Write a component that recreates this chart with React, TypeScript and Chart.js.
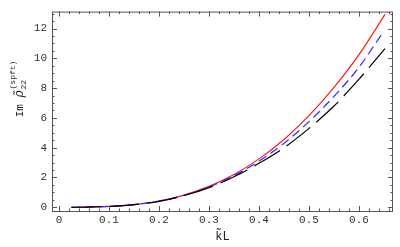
import React, { useEffect, useRef } from "react";
import { Chart, registerables } from "chart.js";

Chart.register(...registerables);

const kL = [0.025, 0.05, 0.1, 0.15, 0.2, 0.25, 0.3, 0.35, 0.4, 0.45, 0.5, 0.55, 0.6];
const redVals = [0.0, 0.01, 0.06, 0.18, 0.42, 0.82, 1.4, 2.2, 3.25, 4.55, 6.15, 8.05, 10.25];
const redEnd = { x: 0.652, y: 12.95 };
const blueVals = [0.0, 0.01, 0.06, 0.18, 0.41, 0.8, 1.36, 2.12, 3.1, 4.3, 5.75, 7.45, 9.4];
const blueEnd = { x: 0.645, y: 11.6 };
const blackVals = [0.0, 0.01, 0.06, 0.18, 0.4, 0.78, 1.32, 2.05, 2.95, 4.0, 5.3, 6.8, 8.6];
const blackEnd = { x: 0.652, y: 10.65 };

const xTicks = [0, 0.1, 0.2, 0.3, 0.4, 0.5, 0.6];
const yTicks = [0, 2, 4, 6, 8, 10, 12];

const MONO = "'Liberation Mono', 'DejaVu Sans Mono', monospace";

function pts(vals: number[], end: { x: number; y: number }) {
  const p = kL.map((x, i) => ({ x, y: vals[i] }));
  p.push(end);
  return p;
}

const framePlugin = {
  id: "frame",
  afterDraw(chart: any) {
    const { ctx, chartArea: a, scales } = chart;
    const xs = scales.x;
    const ys = scales.y;
    ctx.save();
    ctx.strokeStyle = "#555";
    ctx.lineWidth = 1;
    ctx.strokeRect(a.left + 0.5, a.top + 0.5, a.right - a.left - 1, a.bottom - a.top);
    ctx.beginPath();
    for (let i = 0; i <= 33; i++) {
      const v = i * 0.02;
      const px = Math.round(xs.getPixelForValue(v)) + 0.5;
      if (px < a.left || px > a.right) continue;
      const major = i % 5 === 0;
      const len = major ? 5 : 2.5;
      ctx.moveTo(px, a.bottom);
      ctx.lineTo(px, a.bottom - len);
      ctx.moveTo(px, a.top);
      ctx.lineTo(px, a.top + len);
    }
    for (let i = 0; i <= 26; i++) {
      const v = i * 0.5;
      const py = Math.round(ys.getPixelForValue(v)) + 0.5;
      if (py < a.top || py > a.bottom) continue;
      const major = i % 4 === 0;
      const len = major ? 5 : 2.5;
      ctx.moveTo(a.left, py);
      ctx.lineTo(a.left + len, py);
      ctx.moveTo(a.right, py);
      ctx.lineTo(a.right - len, py);
    }
    ctx.stroke();

    // x title
    ctx.fillStyle = "#222";
    ctx.textBaseline = "alphabetic";
    ctx.textAlign = "center";
    ctx.font = `12px ${MONO}`;
    ctx.fillText("k\u0303L", (a.left + a.right) / 2, 240);

    // y title
    ctx.translate(23, 89);
    ctx.rotate(-Math.PI / 2);
    ctx.textAlign = "left";
    const main = "Im ";
    ctx.font = `11px ${MONO}`;
    const wMain = ctx.measureText(main).width;
    ctx.font = `italic 12px 'DejaVu Serif', serif`;
    const rho = "\u03C1\u0303";
    const wRho = ctx.measureText("\u03C1").width;
    ctx.font = `8px ${MONO}`;
    const wSup = ctx.measureText("(spft)").width;
    const total = wMain + wRho + 1 + wSup;
    let x0 = -total / 2;
    ctx.font = `11px ${MONO}`;
    ctx.fillText(main, x0, 0);
    x0 += wMain;
    ctx.font = `italic 12px 'DejaVu Serif', serif`;
    ctx.fillText(rho, x0, 0);
    x0 += wRho + 1;
    ctx.font = `8px ${MONO}`;
    ctx.fillText("22", x0, 3);
    ctx.fillText("(spft)", x0, -8);
    ctx.restore();
  },
};

export default function App() {
  const ref = useRef<HTMLCanvasElement>(null);
  useEffect(() => {
    if (!ref.current) return;
    const chart = new Chart(ref.current, {
      type: "line",
      data: {
        datasets: [
          {
            data: pts(blackVals, blackEnd),
            borderColor: "#000",
            borderWidth: 1.2,
            borderDash: [30, 8],
            pointRadius: 0,
            cubicInterpolationMode: "monotone",
          },
          {
            data: pts(blueVals, blueEnd),
            borderColor: "#2a2aff",
            borderWidth: 1.2,
            borderDash: [9, 5],
            pointRadius: 0,
            cubicInterpolationMode: "monotone",
          },
          {
            data: pts(redVals, redEnd),
            borderColor: "#ff1a1a",
            borderWidth: 1.2,
            pointRadius: 0,
            cubicInterpolationMode: "monotone",
          },
        ],
      },
      options: {
        animation: false,
        responsive: false,
        events: [],
        layout: { padding: { top: 1, right: 7, left: 0, bottom: 0 } },
        plugins: { legend: { display: false }, tooltip: { enabled: false } },
        scales: {
          x: {
            type: "linear",
            min: -0.014,
            max: 0.668,
            grid: { display: false, drawTicks: false },
            border: { display: false },
            afterBuildTicks: (s: any) => {
              s.ticks = xTicks.map((v) => ({ value: v }));
            },
            afterFit: (s: any) => {
              s.height = 36;
            },
            ticks: {
              autoSkip: false,
              maxRotation: 0,
              padding: 2,
              color: "#333",
              font: { family: MONO, size: 11 },
              callback: (v: any) => (v === 0 ? "0" : Number(v).toFixed(1)),
            },
          },
          y: {
            type: "linear",
            min: -0.25,
            max: 13.14,
            grid: { display: false, drawTicks: false },
            border: { display: false },
            afterBuildTicks: (s: any) => {
              s.ticks = yTicks.map((v) => ({ value: v }));
            },
            afterFit: (s: any) => {
              s.width = 52;
            },
            ticks: {
              autoSkip: false,
              padding: 5,
              color: "#333",
              font: { family: MONO, size: 11 },
              callback: (v: any) => String(v),
            },
          },
        },
      },
      plugins: [framePlugin],
    });
    return () => chart.destroy();
  }, []);
  return (
    <div style={{ position: "absolute", left: 0, top: 0, width: 400, height: 247, background: "#fff" }}>
      <canvas ref={ref} width={400} height={247} />
    </div>
  );
}
